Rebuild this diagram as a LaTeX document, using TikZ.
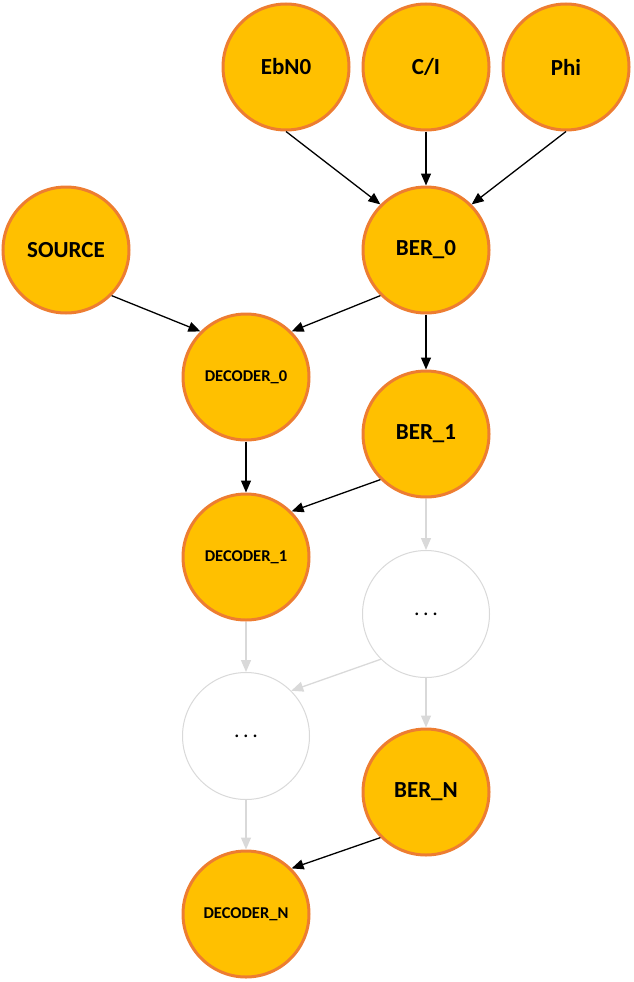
\documentclass[tikz,border=0pt]{standalone}
\usepackage{fontspec}
\setmainfont{Carlito}
\usetikzlibrary{arrows.meta}
\definecolor{gold}{HTML}{FFC000}
\definecolor{orangeline}{HTML}{ED7D31}
\definecolor{lightgray}{HTML}{D9D9D9}
\newcommand{\mydots}{.\hspace{3.5pt}.\hspace{3.5pt}.}
\tikzset{
  var/.style={circle, draw=orangeline, line width=3pt, fill=gold, minimum size=126pt, inner sep=0pt, font=\bfseries\fontsize{23pt}{25pt}\selectfont, text=black},
  dec/.style={var, font=\bfseries\fontsize{16.5pt}{18pt}\selectfont},
  ghost/.style={circle, draw=lightgray, line width=1pt, fill=white, minimum size=127pt, inner sep=0pt, font=\fontsize{22pt}{24pt}\selectfont},
  arr/.style={draw=black, line width=1.3pt, -{Triangle[length=12pt,width=10pt]}},
  garr/.style={draw=lightgray, line width=1.3pt, -{Triangle[length=12pt,width=10pt]}}
}
\begin{document}
\begin{tikzpicture}[x=1pt,y=-1pt]
\useasboundingbox (0,0) rectangle (633,982);
\node[var] (ebn0) at (286,67) {EbN0};
\node[var] (ci) at (426,67) {C/I};
\node[var] (phi) at (566,67) {Phi};
\node[var] (source) at (66,250) {SOURCE};
\node[var] (ber0) at (426,250) {BER\_0};
\node[dec] (dec0) at (246,377) {DECODER\_0};
\node[var] (ber1) at (426,434) {BER\_1};
\node[dec] (dec1) at (246,557) {DECODER\_1};
\node[ghost] (dots1) at (426,614) {\mydots};
\node[ghost] (dots2) at (246,736) {\mydots};
\node[var] (bern) at (426,792) {BER\_N};
\node[dec] (decn) at (246,914) {DECODER\_N};

\draw[arr] (ebn0.south) -- (ber0.135);
\draw[arr] (ci.south) -- (ber0.north);
\draw[arr] (phi.south) -- (ber0.45);
\draw[arr] (source.-45) -- (dec0.135);
\draw[arr] (ber0.-135) -- (dec0.45);
\draw[arr] (ber0.south) -- (ber1.north);
\draw[arr] (dec0.south) -- (dec1.north);
\draw[arr] (ber1.-135) -- (dec1.45);
\draw[garr] (ber1.south) -- (dots1.north);
\draw[garr] (dec1.south) -- (dots2.north);
\draw[garr] (dots1.-135) -- (dots2.45);
\draw[garr] (dots1.south) -- (bern.north);
\draw[garr] (dots2.south) -- (decn.north);
\draw[arr] (bern.-135) -- (decn.45);
\end{tikzpicture}
\end{document}
